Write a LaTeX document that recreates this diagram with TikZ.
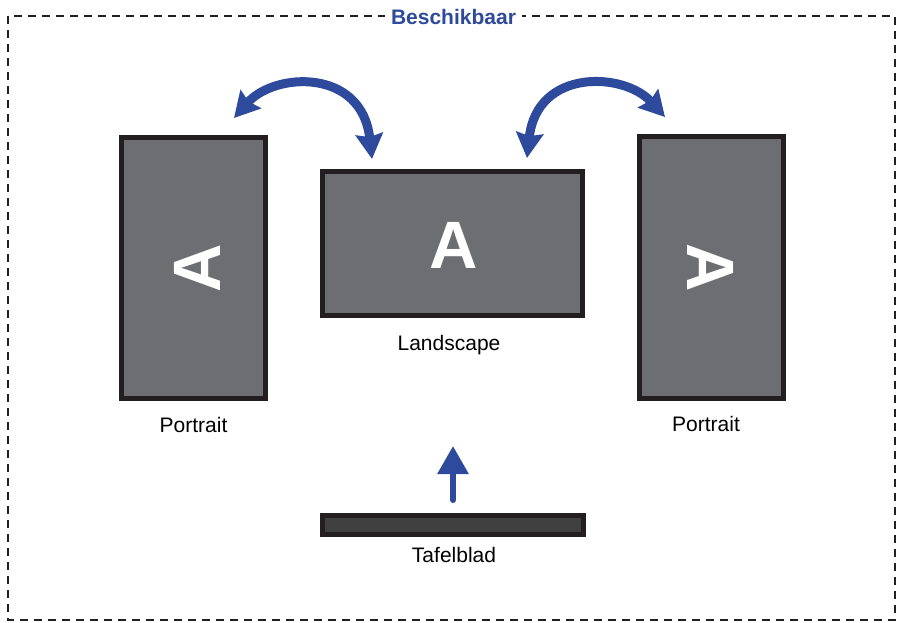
\documentclass[tikz,border=0pt]{standalone}
\usepackage{fontspec}
\setmainfont{Liberation Sans}
\usetikzlibrary{arrows.meta}
\definecolor{dispfill}{HTML}{6D6E71}
\definecolor{dispedge}{HTML}{231F20}
\definecolor{tabfill}{HTML}{404041}
\definecolor{arrblue}{HTML}{2E4A9C}
\definecolor{framegray}{HTML}{231F20}
\tikzset{
  screen/.style={draw=dispedge, fill=dispfill, line width=5pt, inner sep=0pt},
  bigA/.style={text=white, font=\fontsize{67pt}{67pt}\selectfont\bfseries, inner sep=0pt},
  lbl/.style={text=black, font=\fontsize{21pt}{25pt}\selectfont, inner sep=0pt},
  rotarrow/.style={draw=arrblue, line width=9pt, {Stealth[inset=3pt,length=25pt,width=27pt]}-{Stealth[inset=3pt,length=25pt,width=27pt]}},
  uparrow/.style={draw=arrblue, line width=6pt, line cap=round, -{Triangle[length=28pt,width=30pt]}},
}
\begin{document}
\begin{tikzpicture}[x=1pt,y=-1pt]
\useasboundingbox (0,0) rectangle (899,622);
% frame
\draw[framegray, line width=1.8pt, dash pattern=on 8pt off 6pt] (8,16) rectangle (895,620);
\node[fill=white, text=arrblue, font=\fontsize{21pt}{25pt}\selectfont\bfseries, inner xsep=6pt, inner ysep=2pt] (title) at (453.5,17) {Beschikbaar};
% screens
\node[screen, minimum width=144pt, minimum height=261pt] (lp) at (193.5,268) {};
\node[screen, minimum width=260pt, minimum height=144pt] (ls) at (452.5,243.5) {};
\node[screen, minimum width=144pt, minimum height=262pt] (rp) at (711.5,267.5) {};
\node[draw=dispedge, fill=tabfill, line width=5pt, inner sep=0pt, minimum width=261pt, minimum height=19pt] (tb) at (453,525) {};
% letters
\node[bigA, rotate=90] (lpA) at (197,268) {A};
\node[bigA] (lsA) at (454,245) {A};
\node[bigA, rotate=-90] (rpA) at (710.5,268) {A};
% labels
\node[lbl] (lplbl) at (193.5,425) {Portrait};
\node[lbl] (lslbl) at (449,345) {Landscape};
\node[lbl] (rplbl) at (706,424) {Portrait};
\node[lbl] (tblbl) at (454,555) {Tafelblad};
% arrows
\coordinate (l1) at (234,118);
\coordinate (l2) at (372,159);
\coordinate (r1) at (527,158);
\coordinate (r2) at (665,117);
\draw[rotarrow] (l1) .. controls (275,72) and (362,68) .. (l2);
\draw[rotarrow] (r1) .. controls (537,68) and (624,72) .. (r2);
\coordinate (upend) at (453,446);
\draw[uparrow] ([yshift=13pt]tb.north) -- (upend);
\end{tikzpicture}
\end{document}
